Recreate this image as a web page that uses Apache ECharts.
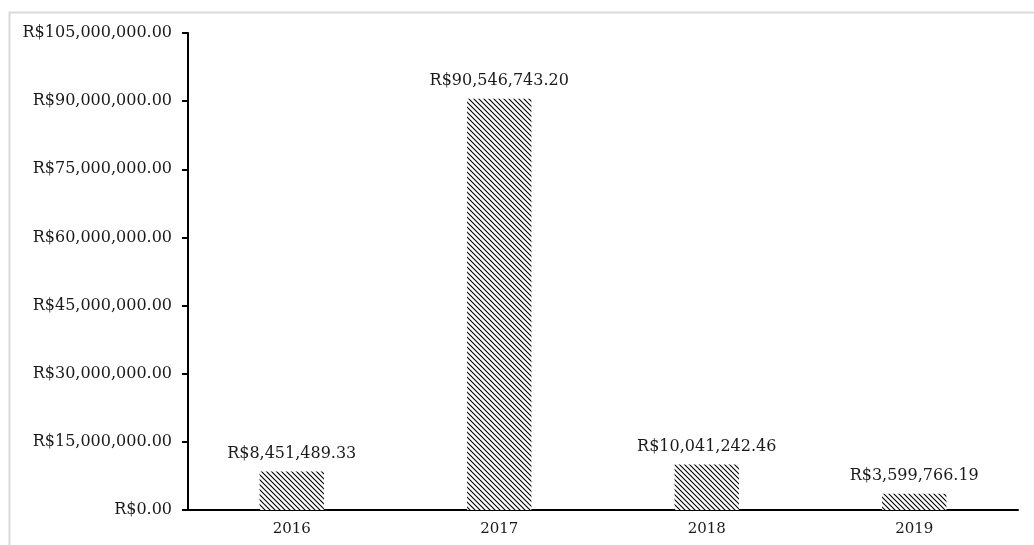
<!DOCTYPE html>
<html>
<head>
<meta charset="utf-8">
<script src="https://cdn.jsdelivr.net/npm/echarts@6/dist/echarts.min.js"></script>
<style>
html,body{margin:0;padding:0;background:#fff;}
#c{width:1034px;height:545px;}
</style>
</head>
<body>
<div id="c"></div>
<script>
var categories = ['2016', '2017', '2018', '2019'];
var values = [8451489.33, 90546743.20, 10041242.46, 3599766.19];
var yMin = 0, yMax = 105000000, yInterval = 15000000;

function fmt(v) {
  var parts = v.toFixed(2).split('.');
  parts[0] = parts[0].replace(/\B(?=(\d{3})+(?!\d))/g, ',');
  return 'R$' + parts.join('.');
}

var tile = document.createElement('canvas');
tile.width = 5; tile.height = 5;
var ctx = tile.getContext('2d');
ctx.fillStyle = '#ffffff';
ctx.fillRect(0, 0, 5, 5);
ctx.strokeStyle = '#000000';
ctx.lineWidth = 1.1;
ctx.beginPath();
ctx.moveTo(-1, -1); ctx.lineTo(6, 6);
ctx.moveTo(-1, 4); ctx.lineTo(1, 6);
ctx.moveTo(4, -1); ctx.lineTo(6, 1);
ctx.stroke();

var font = '"DejaVu Serif", "Liberation Serif", serif';
var chart = echarts.init(document.getElementById('c'));
chart.setOption({
  animation: false,
  backgroundColor: '#ffffff',
  graphic: [{
    type: 'rect', left: 7, top: 10,
    shape: {width: 1040, height: 560},
    style: {fill: 'none', stroke: '#d9d9d9', lineWidth: 2},
    silent: true
  }],
  grid: {left: 188, right: 16, top: 33, bottom: 35, containLabel: false},
  xAxis: {
    type: 'category',
    data: categories,
    axisLine: {lineStyle: {color: '#000', width: 2}},
    axisTick: {show: false},
    axisLabel: {color: '#1a1a1a', fontFamily: font, fontSize: 15, margin: 12}
  },
  yAxis: {
    type: 'value',
    min: yMin, max: yMax, interval: yInterval,
    axisLine: {show: true, lineStyle: {color: '#000', width: 2}},
    axisTick: {show: true, length: 6, lineStyle: {color: '#000', width: 2}},
    splitLine: {show: false},
    axisLabel: {color: '#1a1a1a', fontFamily: font, fontSize: 16, margin: 16, formatter: function(v){ return fmt(v); }}
  },
  series: [{
    type: 'bar',
    data: values,
    barWidth: '31%',
    itemStyle: {color: {image: tile, repeat: 'repeat'}},
    label: {
      show: true, position: 'top', distance: 10,
      color: '#1a1a1a', fontFamily: font, fontSize: 16,
      formatter: function(p){ return fmt(p.value); }
    }
  }]
});
</script>
</body>
</html>
